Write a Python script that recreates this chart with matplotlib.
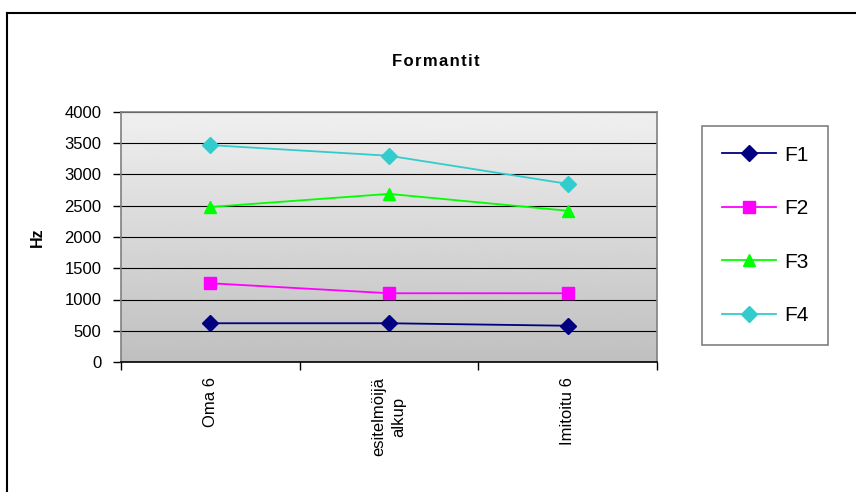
import numpy as np
from matplotlib import pyplot as plt
from matplotlib.lines import Line2D

plt.rcParams['font.family'] = ['Liberation Sans', 'DejaVu Sans']

# data
categories = ["Oma 6", "esitelmöijä\nalkup", "Imitoitu 6"]
f1 = [620, 620, 580]
f2 = [1260, 1100, 1100]
f3 = [2480, 2690, 2420]
f4 = [3470, 3300, 2850]
series_names = ["F1", "F2", "F3", "F4"]
yticks = [0, 500, 1000, 1500, 2000, 2500, 3000, 3500, 4000]

W, H = 856, 492
fig = plt.figure(figsize=(W / 100, H / 100), dpi=100)
ax = fig.add_axes([121 / W, 1 - 362 / H, (657 - 121) / W, (362 - 112) / H])

# gradient background of the plot area
grad = np.linspace(0.94, 0.75, 256).reshape(-1, 1)
ax.imshow(grad, extent=[0, 3, 0, 4000], aspect='auto', cmap='gray',
          vmin=0, vmax=1, zorder=0, interpolation='bicubic')

x = np.arange(len(categories)) + 0.5
styles = [
    (f1, '#000080', 'D', 8),
    (f2, '#ff00ff', 's', 8),
    (f3, '#00ff00', '^', 9),
    (f4, '#33cccc', 'D', 8),
]
for (vals, col, mk, ms), name in zip(styles, series_names):
    ax.plot(x, vals, color=col, marker=mk, markersize=ms, lw=1.3,
            label=name, zorder=3, clip_on=False)

ax.set_xlim(0, 3)
ax.set_ylim(0, 4000)
ax.set_yticks(yticks)
ax.set_yticklabels([str(v) for v in yticks], fontsize=12)
ax.tick_params(axis='y', length=6, width=1, direction='out', pad=8, color='black')
ax.grid(axis='y', color='black', lw=0.8, zorder=1)

# category boundaries carry tick marks, labels sit at centres
ax.set_xticks([0, 1, 2, 3])
ax.set_xticklabels([])
ax.tick_params(axis='x', which='major', length=6, width=1, color='black')
ax.set_xticks(x, minor=True)
ax.set_xticklabels(categories, minor=True, rotation=90, fontsize=12,
                   multialignment='center', va='top', linespacing=1.45)
ax.tick_params(axis='x', which='minor', length=0, pad=11)

for s in ['top', 'right', 'left']:
    ax.spines[s].set_color('#808080')
    ax.spines[s].set_linewidth(1.2)
ax.spines['bottom'].set_color('black')
ax.spines['bottom'].set_linewidth(1.2)

ax.set_ylabel("Hz", fontsize=11.5, fontweight='bold', labelpad=14)

fig.text(436 / W, 1 - 61 / H, "F\u200ao\u200ar\u200am\u200aa\u200an\u200at\u200ai\u200at",
         ha='center', va='center', fontsize=12, fontweight='bold')

leg = ax.legend(loc='upper left', bbox_to_anchor=(702 / W, 1 - 126 / H),
                bbox_transform=fig.transFigure, fontsize=15, frameon=True,
                fancybox=False, edgecolor='#606060', handlelength=2.6,
                labelspacing=1.65, borderpad=0.95, handletextpad=0.4,
                borderaxespad=0)
leg.get_frame().set_linewidth(1.2)
leg.get_frame().set_facecolor('white')

# outer chart frame (only left and top edges visible)
fig.add_artist(Line2D([6.5 / W, 6.5 / W], [0, 1 - 12.5 / H],
                      transform=fig.transFigure, color='black', lw=1.5))
fig.add_artist(Line2D([6.5 / W, 1], [1 - 12.5 / H, 1 - 12.5 / H],
                      transform=fig.transFigure, color='black', lw=1.5))

fig.savefig("out.png", dpi=100)
